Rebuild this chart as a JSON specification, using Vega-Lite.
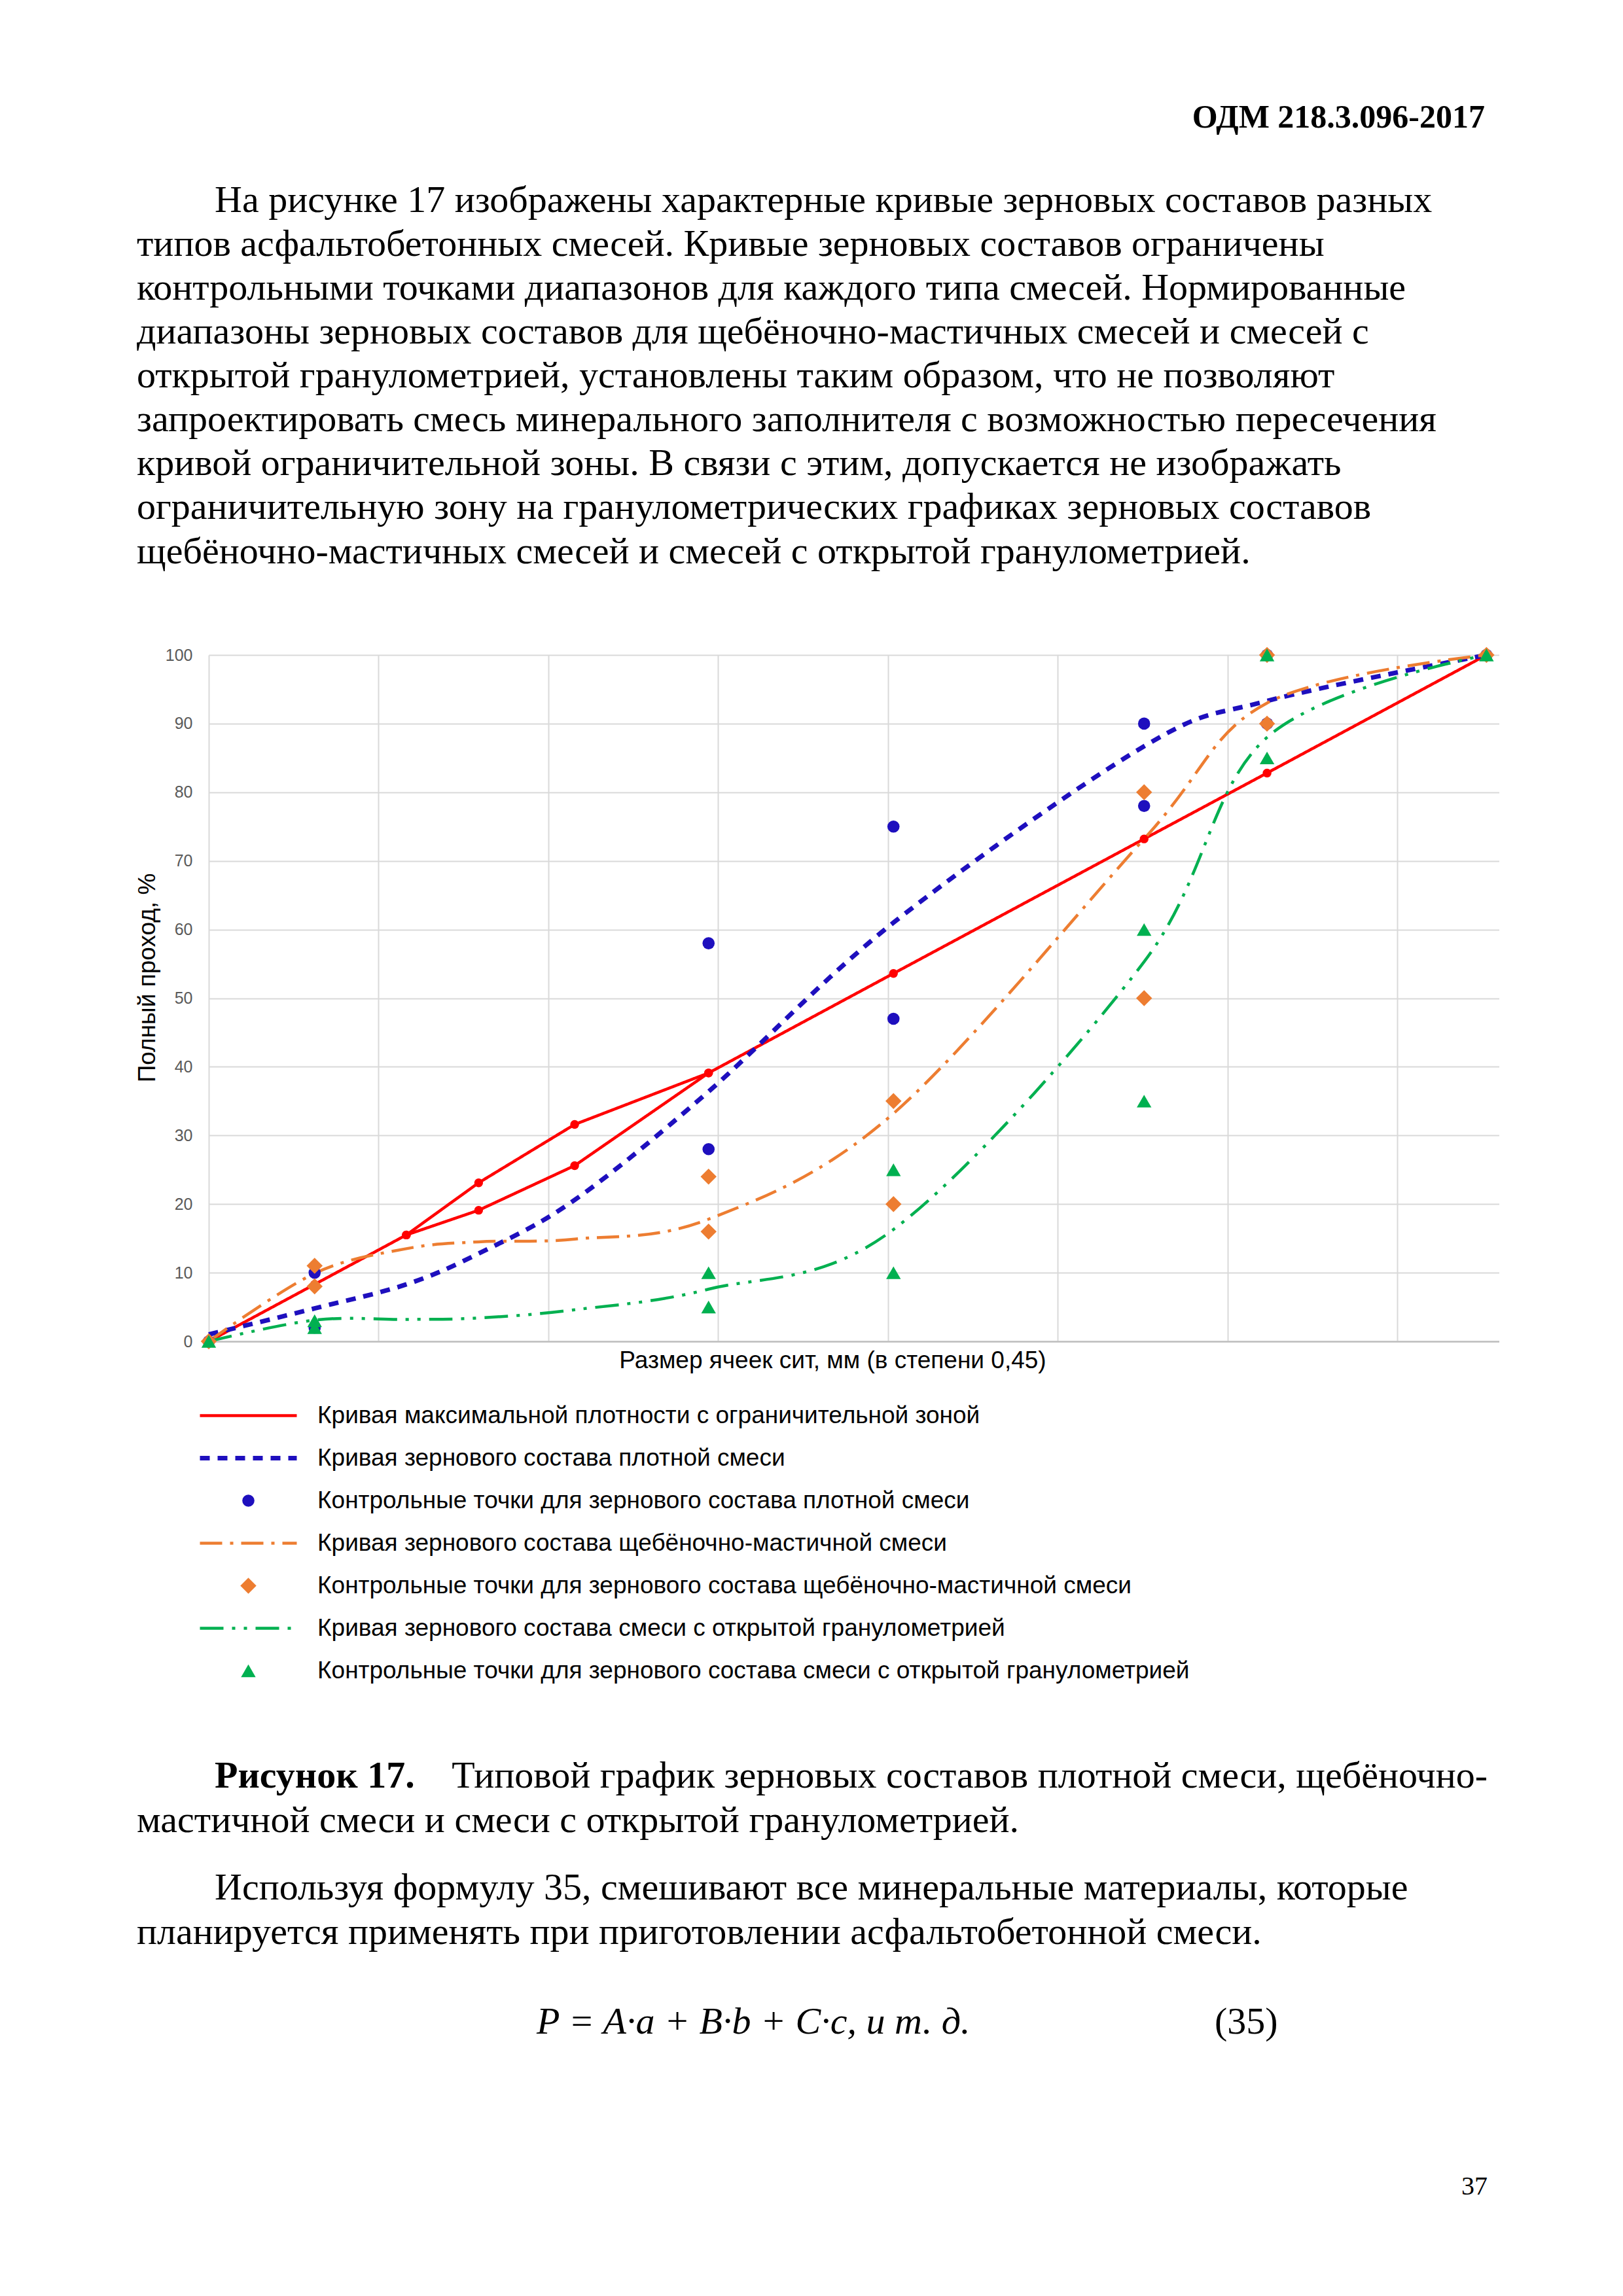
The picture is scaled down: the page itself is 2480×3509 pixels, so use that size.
{
  "$schema": "https://vega.github.io/schema/vega-lite/v6.json",
  "background": "white",
  "padding": {"left": 206, "top": 155, "right": 0, "bottom": 0},
  "title": {"text": "ОДМ 218.3.096-2017", "anchor": "end", "frame": "bounds", "font": "Liberation Serif", "fontSize": 50, "fontWeight": "bold", "color": "#000000", "offset": 73, "dx": -22},
  "spacing": 114,
  "datasets": {
    "paraIndent": [
      {"row": 0, "text": "На рисунке 17 изображены характерные кривые зерновых составов разных"}
    ],
    "paraLeft": [
      {"row": 1, "text": "типов асфальтобетонных смесей. Кривые зерновых составов ограничены"},
      {"row": 2, "text": "контрольными точками диапазонов для каждого типа смесей. Нормированные"},
      {"row": 3, "text": "диапазоны зерновых составов для щебёночно-мастичных смесей и смесей с"},
      {"row": 4, "text": "открытой гранулометрией, установлены таким образом, что не позволяют"},
      {"row": 5, "text": "запроектировать смесь минерального заполнителя с возможностью пересечения"},
      {"row": 6, "text": "кривой ограничительной зоны. В связи с этим, допускается не изображать"},
      {"row": 7, "text": "ограничительную зону на гранулометрических графиках зерновых составов"},
      {"row": 8, "text": "щебёночно-мастичных смесей и смесей с открытой гранулометрией."}
    ],
    "curvesRed": [
      {"series": "Кривая максимальной плотности с ограничительной зоной", "branch": "a", "size": 0, "pass": 0},
      {"series": "Кривая максимальной плотности с ограничительной зоной", "branch": "a", "size": 0.075, "pass": 8.3},
      {"series": "Кривая максимальной плотности с ограничительной зоной", "branch": "a", "size": 0.3, "pass": 15.5},
      {"series": "Кривая максимальной плотности с ограничительной зоной", "branch": "a", "size": 0.6, "pass": 23.1},
      {"series": "Кривая максимальной плотности с ограничительной зоной", "branch": "a", "size": 1.18, "pass": 31.6},
      {"series": "Кривая максимальной плотности с ограничительной зоной", "branch": "a", "size": 2.36, "pass": 39.1},
      {"series": "Кривая максимальной плотности с ограничительной зоной", "branch": "a", "size": 4.75, "pass": 53.6},
      {"series": "Кривая максимальной плотности с ограничительной зоной", "branch": "a", "size": 9.5, "pass": 73.2},
      {"series": "Кривая максимальной плотности с ограничительной зоной", "branch": "a", "size": 12.5, "pass": 82.8},
      {"series": "Кривая максимальной плотности с ограничительной зоной", "branch": "a", "size": 19, "pass": 100},
      {"series": "Кривая максимальной плотности с ограничительной зоной", "branch": "b", "size": 0.3, "pass": 15.5},
      {"series": "Кривая максимальной плотности с ограничительной зоной", "branch": "b", "size": 0.6, "pass": 19.1},
      {"series": "Кривая максимальной плотности с ограничительной зоной", "branch": "b", "size": 1.18, "pass": 25.6},
      {"series": "Кривая максимальной плотности с ограничительной зоной", "branch": "b", "size": 2.36, "pass": 39.1}
    ],
    "curvesSmooth": [
      {"series": "Кривая зернового состава плотной смеси", "size": 0, "pass": 1},
      {"series": "Кривая зернового состава плотной смеси", "size": 0.075, "pass": 4.8},
      {"series": "Кривая зернового состава плотной смеси", "size": 0.3, "pass": 8.3},
      {"series": "Кривая зернового состава плотной смеси", "size": 0.6, "pass": 12.8},
      {"series": "Кривая зернового состава плотной смеси", "size": 1.18, "pass": 20.6},
      {"series": "Кривая зернового состава плотной смеси", "size": 2.36, "pass": 36.4},
      {"series": "Кривая зернового состава плотной смеси", "size": 4.75, "pass": 61},
      {"series": "Кривая зернового состава плотной смеси", "size": 9.5, "pass": 86.7},
      {"series": "Кривая зернового состава плотной смеси", "size": 12.5, "pass": 93.3},
      {"series": "Кривая зернового состава плотной смеси", "size": 19, "pass": 100},
      {"series": "Кривая зернового состава щебёночно-мастичной смеси", "size": 0, "pass": 0},
      {"series": "Кривая зернового состава щебёночно-мастичной смеси", "size": 0.075, "pass": 9.9},
      {"series": "Кривая зернового состава щебёночно-мастичной смеси", "size": 0.3, "pass": 13.5},
      {"series": "Кривая зернового состава щебёночно-мастичной смеси", "size": 0.6, "pass": 14.5},
      {"series": "Кривая зернового состава щебёночно-мастичной смеси", "size": 1.18, "pass": 14.9},
      {"series": "Кривая зернового состава щебёночно-мастичной смеси", "size": 2.36, "pass": 17.8},
      {"series": "Кривая зернового состава щебёночно-мастичной смеси", "size": 4.75, "pass": 33.2},
      {"series": "Кривая зернового состава щебёночно-мастичной смеси", "size": 9.5, "pass": 73.2},
      {"series": "Кривая зернового состава щебёночно-мастичной смеси", "size": 12.5, "pass": 93},
      {"series": "Кривая зернового состава щебёночно-мастичной смеси", "size": 19, "pass": 100},
      {"series": "Кривая зернового состава смеси с открытой гранулометрией", "size": 0, "pass": 0},
      {"series": "Кривая зернового состава смеси с открытой гранулометрией", "size": 0.075, "pass": 3.1},
      {"series": "Кривая зернового состава смеси с открытой гранулометрией", "size": 0.3, "pass": 3.2},
      {"series": "Кривая зернового состава смеси с открытой гранулометрией", "size": 0.6, "pass": 3.4},
      {"series": "Кривая зернового состава смеси с открытой гранулометрией", "size": 1.18, "pass": 4.6},
      {"series": "Кривая зернового состава смеси с открытой гранулометрией", "size": 2.36, "pass": 7.6},
      {"series": "Кривая зернового состава смеси с открытой гранулометрией", "size": 4.75, "pass": 16.3},
      {"series": "Кривая зернового состава смеси с открытой гранулометрией", "size": 9.5, "pass": 55.3},
      {"series": "Кривая зернового состава смеси с открытой гранулометрией", "size": 12.5, "pass": 88},
      {"series": "Кривая зернового состава смеси с открытой гранулометрией", "size": 19, "pass": 100}
    ],
    "controls": [
      {"series": "Контрольные точки для зернового состава плотной смеси", "size": 0, "pass": 0},
      {"series": "Контрольные точки для зернового состава плотной смеси", "size": 0.075, "pass": 2},
      {"series": "Контрольные точки для зернового состава плотной смеси", "size": 0.075, "pass": 10},
      {"series": "Контрольные точки для зернового состава плотной смеси", "size": 2.36, "pass": 28},
      {"series": "Контрольные точки для зернового состава плотной смеси", "size": 2.36, "pass": 58},
      {"series": "Контрольные точки для зернового состава плотной смеси", "size": 4.75, "pass": 47},
      {"series": "Контрольные точки для зернового состава плотной смеси", "size": 4.75, "pass": 75},
      {"series": "Контрольные точки для зернового состава плотной смеси", "size": 9.5, "pass": 78},
      {"series": "Контрольные точки для зернового состава плотной смеси", "size": 9.5, "pass": 90},
      {"series": "Контрольные точки для зернового состава плотной смеси", "size": 12.5, "pass": 90},
      {"series": "Контрольные точки для зернового состава плотной смеси", "size": 12.5, "pass": 100},
      {"series": "Контрольные точки для зернового состава плотной смеси", "size": 19, "pass": 100},
      {"series": "Контрольные точки для зернового состава щебёночно-мастичной смеси", "size": 0, "pass": 0},
      {"series": "Контрольные точки для зернового состава щебёночно-мастичной смеси", "size": 0.075, "pass": 8},
      {"series": "Контрольные точки для зернового состава щебёночно-мастичной смеси", "size": 0.075, "pass": 11},
      {"series": "Контрольные точки для зернового состава щебёночно-мастичной смеси", "size": 2.36, "pass": 16},
      {"series": "Контрольные точки для зернового состава щебёночно-мастичной смеси", "size": 2.36, "pass": 24},
      {"series": "Контрольные точки для зернового состава щебёночно-мастичной смеси", "size": 4.75, "pass": 20},
      {"series": "Контрольные точки для зернового состава щебёночно-мастичной смеси", "size": 4.75, "pass": 35},
      {"series": "Контрольные точки для зернового состава щебёночно-мастичной смеси", "size": 9.5, "pass": 50},
      {"series": "Контрольные точки для зернового состава щебёночно-мастичной смеси", "size": 9.5, "pass": 80},
      {"series": "Контрольные точки для зернового состава щебёночно-мастичной смеси", "size": 12.5, "pass": 90},
      {"series": "Контрольные точки для зернового состава щебёночно-мастичной смеси", "size": 12.5, "pass": 100},
      {"series": "Контрольные точки для зернового состава щебёночно-мастичной смеси", "size": 19, "pass": 100},
      {"series": "Контрольные точки для зернового состава смеси с открытой гранулометрией", "size": 0, "pass": 0},
      {"series": "Контрольные точки для зернового состава смеси с открытой гранулометрией", "size": 0.075, "pass": 2},
      {"series": "Контрольные точки для зернового состава смеси с открытой гранулометрией", "size": 0.075, "pass": 3},
      {"series": "Контрольные точки для зернового состава смеси с открытой гранулометрией", "size": 2.36, "pass": 5},
      {"series": "Контрольные точки для зернового состава смеси с открытой гранулометрией", "size": 2.36, "pass": 10},
      {"series": "Контрольные точки для зернового состава смеси с открытой гранулометрией", "size": 4.75, "pass": 10},
      {"series": "Контрольные точки для зернового состава смеси с открытой гранулометрией", "size": 4.75, "pass": 25},
      {"series": "Контрольные точки для зернового состава смеси с открытой гранулометрией", "size": 9.5, "pass": 35},
      {"series": "Контрольные точки для зернового состава смеси с открытой гранулометрией", "size": 9.5, "pass": 60},
      {"series": "Контрольные точки для зернового состава смеси с открытой гранулометрией", "size": 12.5, "pass": 85},
      {"series": "Контрольные точки для зернового состава смеси с открытой гранулометрией", "size": 12.5, "pass": 100},
      {"series": "Контрольные точки для зернового состава смеси с открытой гранулометрией", "size": 19, "pass": 100}
    ],
    "captionBold": [
      {"row": 0, "text": "Рисунок 17."}
    ],
    "bodyIndent": [
      {"row": 5, "text": "Используя формулу 35, смешивают все минеральные материалы, которые"}
    ],
    "bodyLeft": [
      {"row": 2, "text": "мастичной смеси и смеси с открытой гранулометрией."},
      {"row": 7, "text": "планируется применять при приготовлении асфальтобетонной смеси."}
    ],
    "bodyRight": [
      {"row": 0, "text": "Типовой график зерновых составов плотной смеси, щебёночно-"}
    ],
    "formula": [
      {"row": 11, "text": "P = A·a + B·b + C·c, и т. д."}
    ],
    "eqNumber": [
      {"row": 11, "text": "(35)"}
    ]
  },
  "vconcat": [
    {
      "width": 1954,
      "height": 536.56,
      "encoding": {
        "y": {"field": "row", "type": "quantitative", "scale": {"domain": [0, 8], "reverse": true, "nice": false, "zero": false}, "axis": null},
        "text": {"field": "text", "type": "nominal"}
      },
      "layer": [
        {
          "data": {"name": "paraIndent"},
          "mark": {"type": "text", "align": "left", "baseline": "alphabetic", "font": "Liberation Serif", "fontSize": 58, "color": "#000000", "dx": 9},
          "encoding": {"x": {"value": 0}}
        },
        {
          "data": {"name": "paraLeft"},
          "mark": {"type": "text", "align": "left", "baseline": "alphabetic", "font": "Liberation Serif", "fontSize": 58, "color": "#000000", "dx": -110},
          "encoding": {"x": {"value": 0}}
        }
      ]
    },
    {
      "width": 1972,
      "height": 1049,
      "encoding": {
        "x": {
          "field": "size",
          "type": "quantitative",
          "title": "Размер ячеек сит, мм  (в степени 0,45)",
          "scale": {"type": "pow", "exponent": 0.45, "domain": [0, 19.427], "nice": false, "zero": false},
          "axis": {
            "values": [0, 0.21431, 1, 2.46216, 4.66611, 7.66145, 11.48866, 16.18232],
            "labels": false,
            "ticks": false,
            "domain": true,
            "domainColor": "#BFBFBF",
            "domainWidth": 2.5,
            "grid": true,
            "gridColor": "#D9D9D9",
            "gridWidth": 2,
            "titleFont": "Liberation Sans",
            "titleFontSize": 37,
            "titleFontWeight": "normal",
            "titleColor": "#000000",
            "titlePadding": 11,
            "titleX": 953
          }
        },
        "y": {
          "field": "pass",
          "type": "quantitative",
          "title": "Полный проход, %",
          "scale": {"domain": [0, 100], "nice": false},
          "axis": {
            "values": [0, 10, 20, 30, 40, 50, 60, 70, 80, 90, 100],
            "domain": false,
            "ticks": false,
            "grid": true,
            "gridColor": "#D9D9D9",
            "gridWidth": 2,
            "labelFont": "Liberation Sans",
            "labelFontSize": 25,
            "labelColor": "#595959",
            "labelPadding": 25,
            "titleFont": "Liberation Sans",
            "titleFontSize": 37,
            "titleFontWeight": "normal",
            "titleColor": "#000000",
            "titlePadding": 8,
            "titleY": 493
          }
        }
      },
      "layer": [
        {
          "data": {"name": "curvesRed"},
          "mark": {"type": "line", "interpolate": "linear", "strokeCap": "butt"},
          "encoding": {
            "detail": {"field": "branch", "type": "nominal"},
            "color": {"field": "series", "type": "nominal", "title": null,
              "scale": {"domain": ["Кривая максимальной плотности с ограничительной зоной","Кривая зернового состава плотной смеси","Контрольные точки для зернового состава плотной смеси","Кривая зернового состава щебёночно-мастичной смеси","Контрольные точки для зернового состава щебёночно-мастичной смеси","Кривая зернового состава смеси с открытой гранулометрией","Контрольные точки для зернового состава смеси с открытой гранулометрией"],
                "range": ["#FF0000","#1E0FBE","#1E0FBE","#ED7D31","#ED7D31","#00B050","#00B050"]}},
            "strokeDash": {"field": "series", "type": "nominal", "title": null,
              "scale": {"domain": ["Кривая максимальной плотности с ограничительной зоной","Кривая зернового состава плотной смеси","Контрольные точки для зернового состава плотной смеси","Кривая зернового состава щебёночно-мастичной смеси","Контрольные точки для зернового состава щебёночно-мастичной смеси","Кривая зернового состава смеси с открытой гранулометрией","Контрольные точки для зернового состава смеси с открытой гранулометрией"],
                "range": [[1,0],[15,12],[1,0],[34,12,5,12],[1,0],[36,13,5,13,5,13],[1,0]]}},
            "strokeWidth": {"field": "series", "type": "nominal", "title": null,
              "scale": {"type": "ordinal", "domain": ["Кривая максимальной плотности с ограничительной зоной","Кривая зернового состава плотной смеси","Контрольные точки для зернового состава плотной смеси","Кривая зернового состава щебёночно-мастичной смеси","Контрольные точки для зернового состава щебёночно-мастичной смеси","Кривая зернового состава смеси с открытой гранулометрией","Контрольные точки для зернового состава смеси с открытой гранулометрией"],
                "range": [4.5, 7, 0, 4.5, 0, 4.5, 0]}}
          }
        },
        {
          "data": {"name": "curvesSmooth"},
          "mark": {"type": "line", "interpolate": "cardinal", "strokeCap": "butt"},
          "encoding": {
            "color": {"field": "series", "type": "nominal", "title": null,
              "scale": {"domain": ["Кривая максимальной плотности с ограничительной зоной","Кривая зернового состава плотной смеси","Контрольные точки для зернового состава плотной смеси","Кривая зернового состава щебёночно-мастичной смеси","Контрольные точки для зернового состава щебёночно-мастичной смеси","Кривая зернового состава смеси с открытой гранулометрией","Контрольные точки для зернового состава смеси с открытой гранулометрией"],
                "range": ["#FF0000","#1E0FBE","#1E0FBE","#ED7D31","#ED7D31","#00B050","#00B050"]}},
            "strokeDash": {"field": "series", "type": "nominal", "title": null,
              "scale": {"domain": ["Кривая максимальной плотности с ограничительной зоной","Кривая зернового состава плотной смеси","Контрольные точки для зернового состава плотной смеси","Кривая зернового состава щебёночно-мастичной смеси","Контрольные точки для зернового состава щебёночно-мастичной смеси","Кривая зернового состава смеси с открытой гранулометрией","Контрольные точки для зернового состава смеси с открытой гранулометрией"],
                "range": [[1,0],[15,12],[1,0],[34,12,5,12],[1,0],[36,13,5,13,5,13],[1,0]]}},
            "strokeWidth": {"field": "series", "type": "nominal", "title": null,
              "scale": {"type": "ordinal", "domain": ["Кривая максимальной плотности с ограничительной зоной","Кривая зернового состава плотной смеси","Контрольные точки для зернового состава плотной смеси","Кривая зернового состава щебёночно-мастичной смеси","Контрольные точки для зернового состава щебёночно-мастичной смеси","Кривая зернового состава смеси с открытой гранулометрией","Контрольные точки для зернового состава смеси с открытой гранулометрией"],
                "range": [4.5, 7, 0, 4.5, 0, 4.5, 0]}}
          }
        },
        {
          "data": {"name": "curvesRed"},
          "mark": {"type": "point", "filled": true, "shape": "circle", "size": 180, "color": "#FF0000", "opacity": 1}
        },
        {
          "data": {"name": "controls"},
          "mark": {"type": "point", "filled": true, "opacity": 1, "strokeWidth": 0},
          "encoding": {
            "color": {"field": "series", "type": "nominal", "title": null,
              "scale": {"domain": ["Кривая максимальной плотности с ограничительной зоной","Кривая зернового состава плотной смеси","Контрольные точки для зернового состава плотной смеси","Кривая зернового состава щебёночно-мастичной смеси","Контрольные точки для зернового состава щебёночно-мастичной смеси","Кривая зернового состава смеси с открытой гранулометрией","Контрольные точки для зернового состава смеси с открытой гранулометрией"],
                "range": ["#FF0000","#1E0FBE","#1E0FBE","#ED7D31","#ED7D31","#00B050","#00B050"]}},
            "shape": {"field": "series", "type": "nominal", "title": null,
              "scale": {"domain": ["Кривая максимальной плотности с ограничительной зоной","Кривая зернового состава плотной смеси","Контрольные точки для зернового состава плотной смеси","Кривая зернового состава щебёночно-мастичной смеси","Контрольные точки для зернового состава щебёночно-мастичной смеси","Кривая зернового состава смеси с открытой гранулометрией","Контрольные точки для зернового состава смеси с открытой гранулометрией"],
                "range": ["M-7.4,0L7.4,0","M-7.4,0L7.4,0","circle","M-7.4,0L7.4,0","diamond","M-7.4,0L7.4,0","triangle-up"]}},
            "size": {"field": "series", "type": "nominal", "title": null,
              "scale": {"type": "ordinal", "domain": ["Кривая максимальной плотности с ограничительной зоной","Кривая зернового состава плотной смеси","Контрольные точки для зернового состава плотной смеси","Кривая зернового состава щебёночно-мастичной смеси","Контрольные точки для зернового состава щебёночно-мастичной смеси","Кривая зернового состава смеси с открытой гранулометрией","Контрольные точки для зернового состава смеси с открытой гранулометрией"],
                "range": [400, 400, 346, 400, 600, 400, 500]}}
          }
        }
      ]
    },
    {
      "width": 1954,
      "height": 931.3,
      "title": {"text": "37", "orient": "bottom", "anchor": "end", "frame": "group", "font": "Liberation Serif", "fontSize": 40, "fontWeight": "normal", "color": "#000000", "offset": 180},
      "encoding": {
        "y": {"field": "row", "type": "quantitative", "scale": {"domain": [-15.23, 12], "reverse": true, "nice": false, "zero": false}, "axis": null},
        "text": {"field": "text", "type": "nominal"}
      },
      "layer": [
        {
          "data": {"name": "captionBold"},
          "mark": {"type": "text", "align": "left", "baseline": "alphabetic", "font": "Liberation Serif", "fontSize": 58, "fontWeight": "bold", "color": "#000000", "dx": 9},
          "encoding": {"x": {"value": 0}}
        },
        {
          "data": {"name": "bodyIndent"},
          "mark": {"type": "text", "align": "left", "baseline": "alphabetic", "font": "Liberation Serif", "fontSize": 58, "color": "#000000", "dx": 9},
          "encoding": {"x": {"value": 0}}
        },
        {
          "data": {"name": "bodyLeft"},
          "mark": {"type": "text", "align": "left", "baseline": "alphabetic", "font": "Liberation Serif", "fontSize": 58, "color": "#000000", "dx": -110},
          "encoding": {"x": {"value": 0}}
        },
        {
          "data": {"name": "bodyRight"},
          "mark": {"type": "text", "align": "right", "baseline": "alphabetic", "font": "Liberation Serif", "fontSize": 58, "color": "#000000"},
          "encoding": {"x": {"value": "width"}}
        },
        {
          "data": {"name": "formula"},
          "mark": {"type": "text", "align": "left", "baseline": "alphabetic", "font": "Liberation Serif", "fontSize": 58, "fontStyle": "italic", "color": "#000000", "dx": 501},
          "encoding": {"x": {"value": 0}}
        },
        {
          "data": {"name": "eqNumber"},
          "mark": {"type": "text", "align": "left", "baseline": "alphabetic", "font": "Liberation Serif", "fontSize": 58, "color": "#000000", "dx": 1537},
          "encoding": {"x": {"value": 0}}
        }
      ]
    }
  ],
  "config": {
    "view": {"stroke": null},
    "font": "Liberation Sans",
    "legend": {
      "orient": "none",
      "legendX": 42,
      "legendY": 1821,
      "direction": "vertical",
      "labelFont": "Liberation Sans",
      "labelFontSize": 37,
      "labelColor": "#000000",
      "labelLimit": 3000,
      "labelOffset": 87,
      "rowPadding": 27,
      "symbolOpacity": 1
    }
  }
}
